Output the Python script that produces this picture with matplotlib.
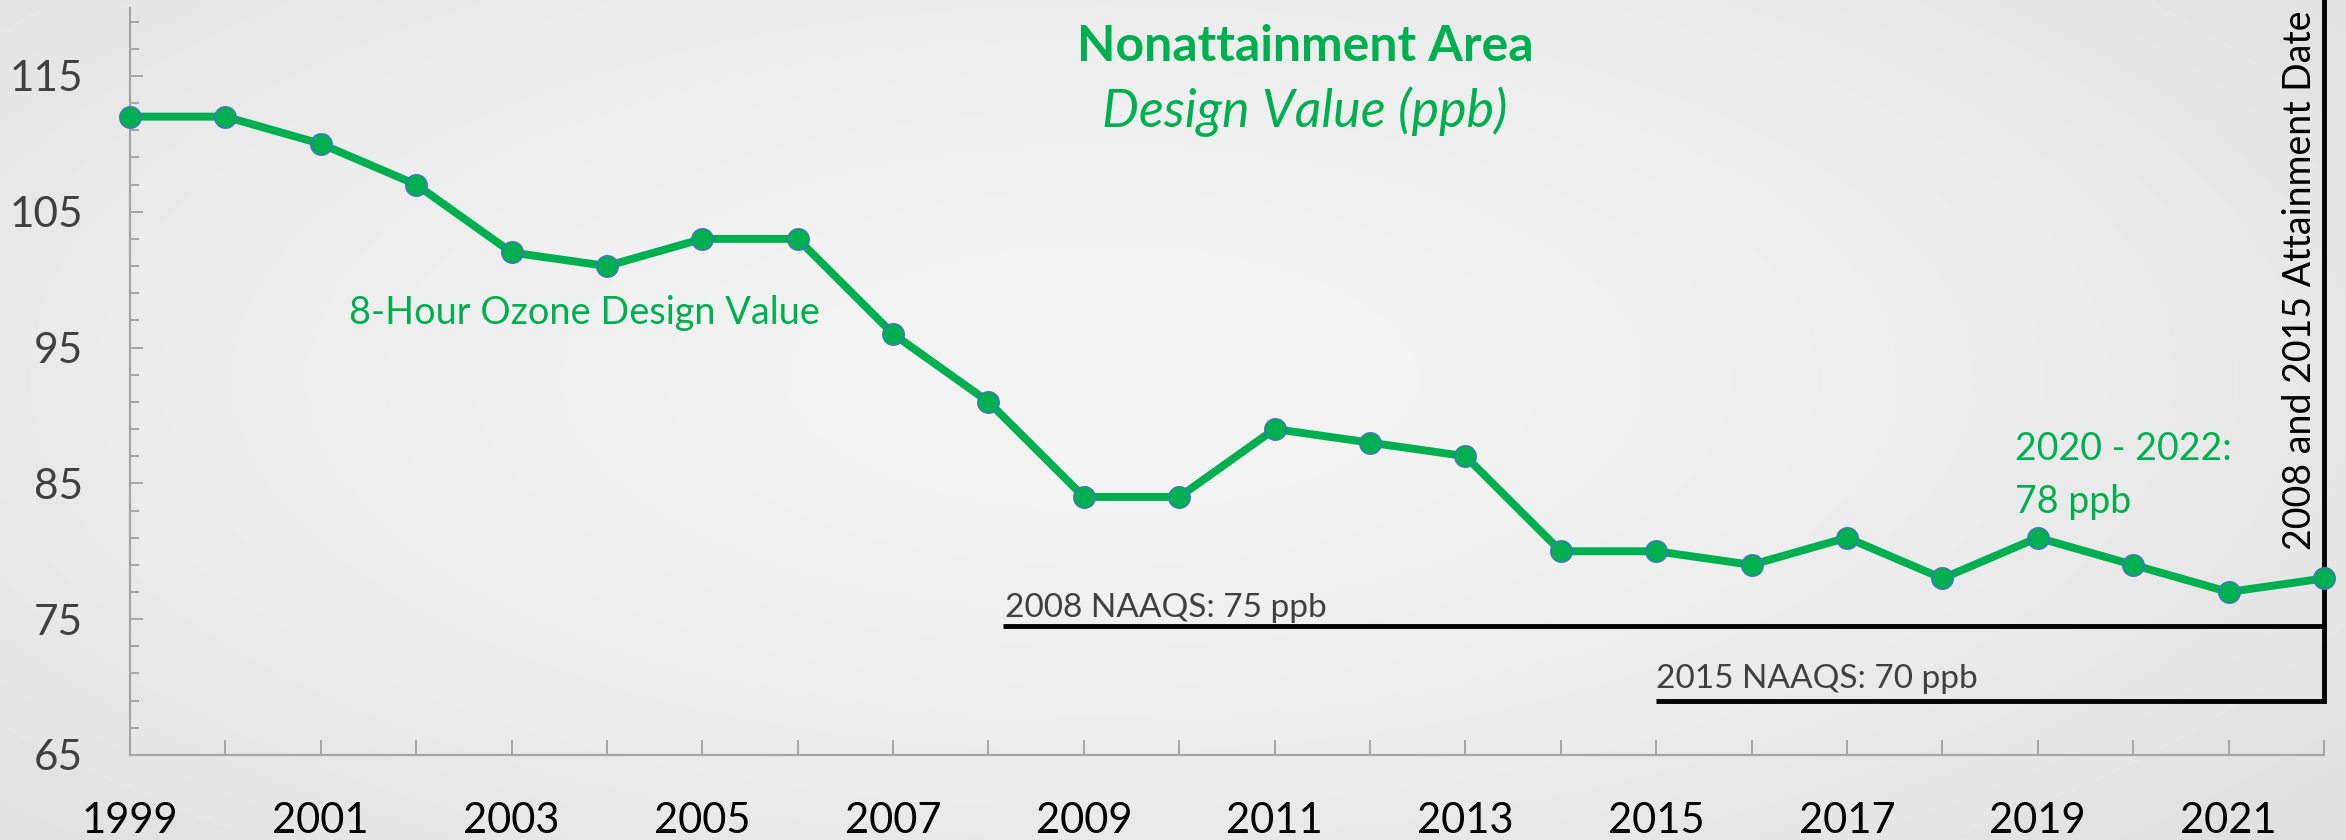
import numpy as np
import matplotlib.pyplot as plt
from matplotlib.ticker import MultipleLocator

# data
years = list(range(1999, 2023))
design_value = [112, 112, 110, 107, 102, 101, 103, 103, 96, 91, 84, 84,
                89, 88, 87, 80, 80, 79, 81, 78, 81, 79, 77, 78]
year_labels = [str(y) if y % 2 == 1 else "" for y in years]
y_labels = [65, 75, 85, 95, 105, 115]

naaqs_2008 = 74.5
naaqs_2015 = 69.0
naaqs_2008_start = 2008.15
naaqs_2015_start = 2015.0
attainment_year = 2022

green = "#00B050"
plt.rcParams["font.family"] = ["Lato", "DejaVu Sans"]

fig = plt.figure(figsize=(23.46, 8.4), dpi=100)

# soft radial background like the slide
bg = fig.add_axes([0, 0, 1, 1], zorder=-5)
gx, gy = np.meshgrid(np.linspace(0, 1, 400), np.linspace(0, 1, 150))
r = np.sqrt(((gx - 0.47) / 0.75) ** 2 + ((gy - 0.45) / 0.9) ** 2)
shade = 0.955 - 0.09 * np.clip(r, 0, 1) ** 1.6
bg.imshow(shade, cmap="gray", vmin=0, vmax=1, aspect="auto", extent=[0, 1, 0, 1],
          interpolation="bicubic")
bg.axis("off")

ax = fig.add_axes([0.0554, 0.1012, 0.9352, 0.8893])
ax.set_facecolor("none")

ax.plot(years, design_value, color=green, lw=5.7, marker="o", markersize=15.5,
        markerfacecolor=green, markeredgecolor="#4472C4", markeredgewidth=1,
        clip_on=False, zorder=5)

# NAAQS lines and attainment date line
ax.hlines(naaqs_2008, naaqs_2008_start, attainment_year, color="black", lw=3.5, zorder=3)
ax.hlines(naaqs_2015, naaqs_2015_start, attainment_year + 0.03, color="black", lw=3.5, zorder=3)
ax.plot([attainment_year, attainment_year], [naaqs_2015, 120.7], color="black", lw=3.5,
        clip_on=False, zorder=4)

ax.set_xlim(1999, 2022)
ax.set_ylim(65, 120)

ax.set_xticks(years)
ax.set_xticklabels(year_labels)
ax.set_yticks(y_labels)
ax.yaxis.set_minor_locator(MultipleLocator(2))
ax.set_yticks(np.arange(67, 120, 2), minor=True)

for s in ["top", "right"]:
    ax.spines[s].set_visible(False)
for s in ["left", "bottom"]:
    ax.spines[s].set_color("#A6A6A6")
    ax.spines[s].set_linewidth(1.6)

ax.tick_params(axis="x", direction="in", length=11, width=1.4, color="#A6A6A6",
               labelsize=30, labelcolor="black", pad=34)
ax.tick_params(axis="y", which="major", direction="in", length=9.5, width=1.4,
               color="#A6A6A6", labelsize=30.5, labelcolor="#404040", pad=34)
ax.tick_params(axis="y", which="minor", direction="in", length=6.5, width=1.4,
               color="#A6A6A6")

# annotations
ax.text(2001.3, 96.76, "8-Hour Ozone Design Value", color=green, fontsize=27.3,
        va="baseline", ha="left")
ax.text(2018.76, 86.7, "2020 - 2022:", color=green, fontsize=27, va="baseline", ha="left")
ax.text(2018.76, 82.8, "78 ppb", color=green, fontsize=27, va="baseline", ha="left")
ax.text(2008.17, 75.15, "2008 NAAQS: 75 ppb", color="#404040", fontsize=24,
        va="baseline", ha="left")
ax.text(2015.0, 69.93, "2015 NAAQS: 70 ppb", color="#404040", fontsize=24,
        va="baseline", ha="left")
ax.annotate("2008 and 2015 Attainment Date", xy=(attainment_year, 80.1), xytext=(-4, 0),
            textcoords="offset points", rotation=90, ha="right", va="bottom",
            fontsize=27, color="black", annotation_clip=False)

# title block
fig.text(0.5563, 0.9274, "Nonattainment Area", color=green, fontsize=36,
         fontweight="bold", ha="center", va="baseline")
fig.text(0.5563, 0.8488, "Design Value (ppb)", color=green, fontsize=37.5,
         fontstyle="italic", ha="center", va="baseline")

fig.savefig("out.png", dpi=100)
